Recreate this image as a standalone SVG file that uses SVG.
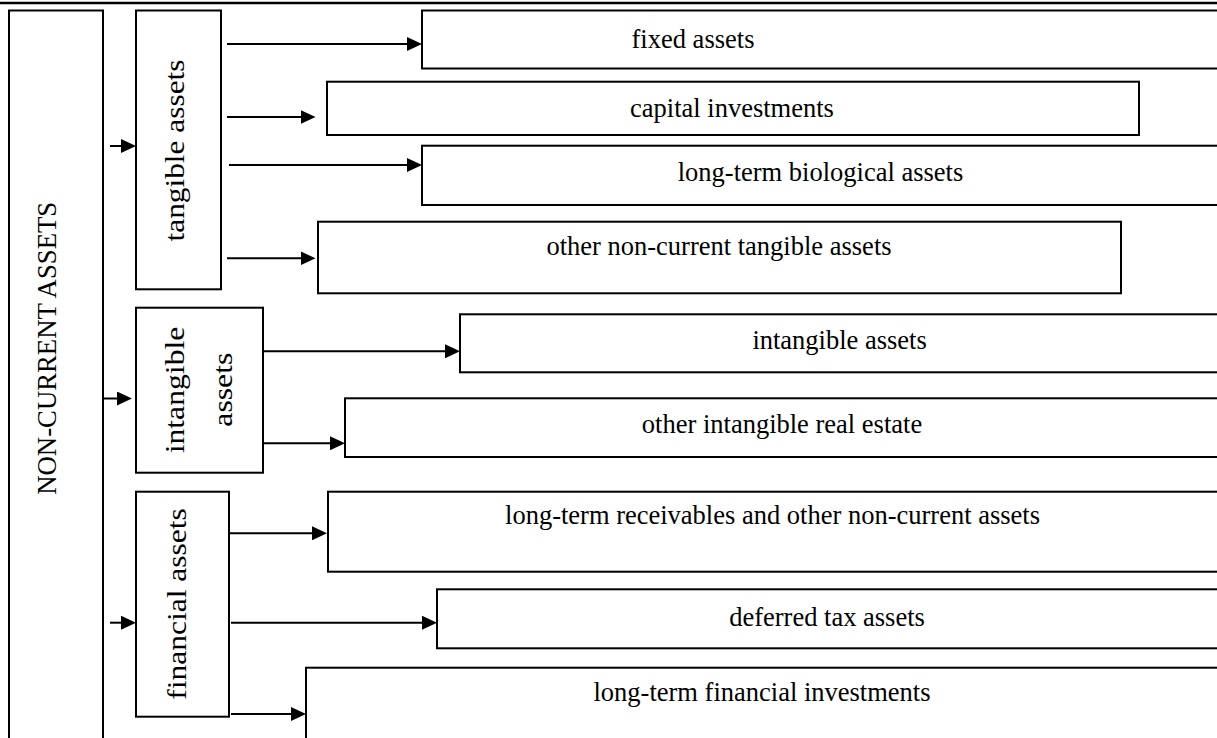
<svg xmlns="http://www.w3.org/2000/svg" width="1217" height="738" viewBox="0 0 1217 738">
<style>
.box{fill:#fff;stroke:#000;stroke-width:2}
.t{font-family:"Liberation Serif","Times New Roman",serif;font-size:26.5px;fill:#000;text-anchor:middle}
.v{font-family:"Liberation Serif","Times New Roman",serif;font-size:28px;fill:#000;text-anchor:middle}
.c line{stroke:#000;stroke-width:2}
</style>
<defs>
<marker id="ah" markerUnits="userSpaceOnUse" markerWidth="15" markerHeight="14" refX="7" refY="7" orient="auto">
<path d="M0,0 L15,7 L0,14 z" fill="#000"/>
</marker>
</defs>
<rect width="1217" height="738" fill="#fff"/>
<line x1="0" y1="3" x2="1217" y2="3" stroke="#000" stroke-width="2.5"/>

<g id="n-noncurrent"><rect class="box" x="9" y="10.5" width="94" height="740"/>
<text class="v" transform="translate(56,348.3) rotate(-90)" textLength="293" lengthAdjust="spacingAndGlyphs">NON-CURRENT ASSETS</text></g>

<g id="n-tangible"><rect class="box" x="136" y="10.5" width="85" height="278.8"/>
<text class="v" transform="translate(184,150.5) rotate(-90)" textLength="182" lengthAdjust="spacingAndGlyphs">tangible assets</text></g>

<g id="n-intangible"><rect class="box" x="136" y="307.7" width="127" height="165"/>
<text class="v" transform="translate(184,390) rotate(-90)" textLength="126.7" lengthAdjust="spacingAndGlyphs">intangible</text>
<text class="v" transform="translate(231.5,389.7) rotate(-90)" textLength="74" lengthAdjust="spacingAndGlyphs">assets</text></g>

<g id="n-financial"><rect class="box" x="136" y="491.7" width="93" height="225"/>
<text class="v" transform="translate(186,604) rotate(-90)" textLength="191.7" lengthAdjust="spacingAndGlyphs">financial assets</text></g>

<g id="n-fixed"><rect class="box" x="422" y="10.5" width="810" height="58"/>
<text class="t" x="693" y="48">fixed assets</text></g>

<g id="n-capital"><rect class="box" x="327" y="81.7" width="812" height="53.3"/>
<text class="t" x="732" y="117">capital investments</text></g>

<g id="n-bio"><rect class="box" x="422" y="145.7" width="810" height="59.3"/>
<text class="t" x="820.5" y="181">long-term biological assets</text></g>

<g id="n-othertang"><rect class="box" x="318" y="221.7" width="803" height="71.6"/>
<text class="t" x="719" y="255">other non-current tangible assets</text></g>

<g id="n-intangassets"><rect class="box" x="460" y="314.3" width="772" height="58"/>
<text class="t" x="839.6" y="349">intangible assets</text></g>

<g id="n-otherintang"><rect class="box" x="345" y="398.3" width="887" height="58.7"/>
<text class="t" x="782" y="433">other intangible real estate</text></g>

<g id="n-receivables"><rect class="box" x="328" y="491.7" width="904" height="80"/>
<text class="t" x="772.5" y="524">long-term receivables and other non-current assets</text></g>

<g id="n-deferred"><rect class="box" x="437" y="589.3" width="795" height="59"/>
<text class="t" x="827" y="626">deferred tax assets</text></g>

<g id="n-ltfin"><rect class="box" x="306" y="667.7" width="926" height="90"/>
<text class="t" x="762" y="701">long-term financial investments</text></g>

<g id="connectors" class="c">
<line x1="110" y1="146" x2="128" y2="146" marker-end="url(#ah)"/>
<line x1="103" y1="398.5" x2="124" y2="398.5" marker-end="url(#ah)"/>
<line x1="110" y1="622.7" x2="128" y2="622.7" marker-end="url(#ah)"/>
<line x1="227" y1="44" x2="414" y2="44" marker-end="url(#ah)"/>
<line x1="227" y1="117" x2="307.5" y2="117" marker-end="url(#ah)"/>
<line x1="229" y1="165" x2="414" y2="165" marker-end="url(#ah)"/>
<line x1="227" y1="258.3" x2="307.5" y2="258.3" marker-end="url(#ah)"/>
<line x1="263" y1="351.3" x2="452" y2="351.3" marker-end="url(#ah)"/>
<line x1="263" y1="443.3" x2="337" y2="443.3" marker-end="url(#ah)"/>
<line x1="229" y1="533.3" x2="319" y2="533.3" marker-end="url(#ah)"/>
<line x1="231" y1="622.7" x2="429" y2="622.7" marker-end="url(#ah)"/>
<line x1="231" y1="714" x2="298" y2="714" marker-end="url(#ah)"/>
</g>
</svg>
